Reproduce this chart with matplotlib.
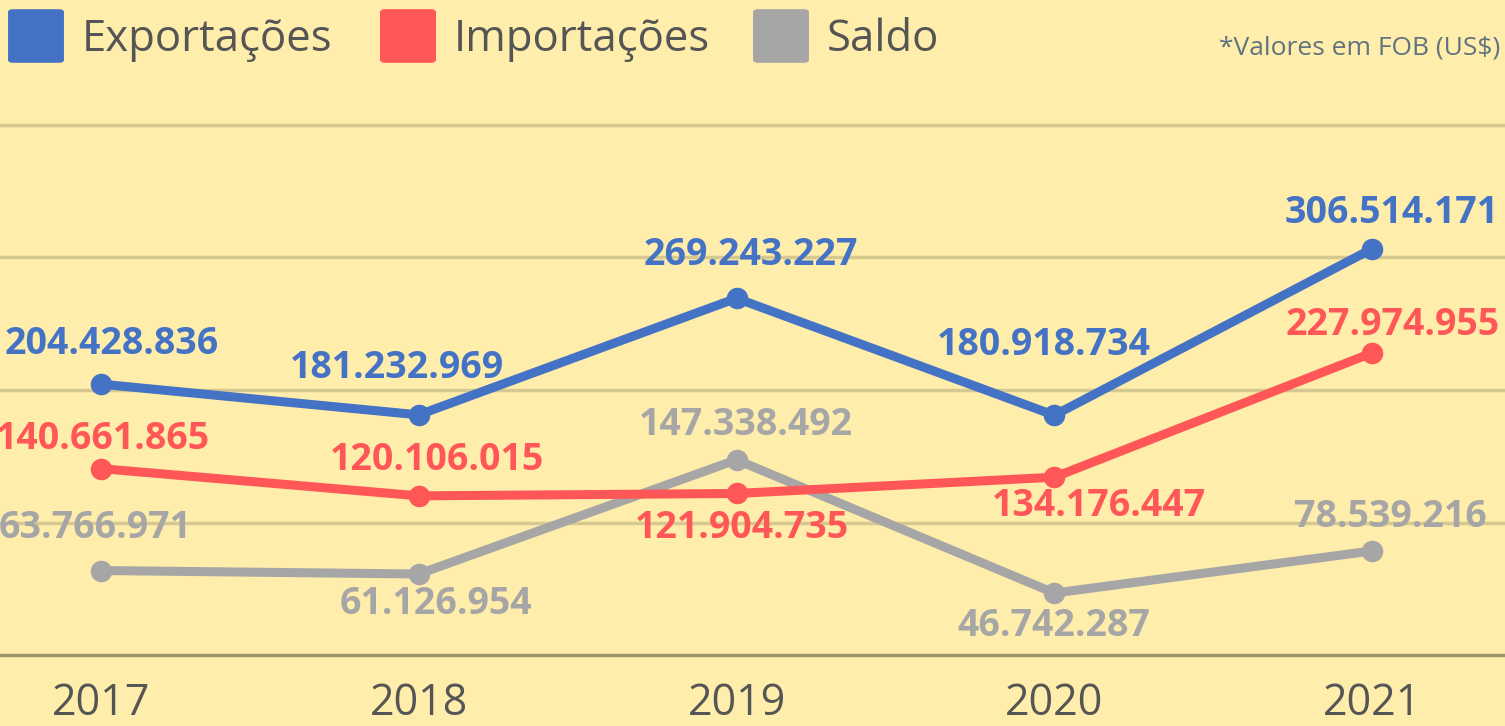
import matplotlib
matplotlib.use("Agg")
import matplotlib.pyplot as plt
from matplotlib.patches import FancyBboxPatch

plt.rcParams["font.family"] = ["Open Sans", "DejaVu Sans"]

years = ["2017", "2018", "2019", "2020", "2021"]
exportacoes = [204428836, 181232969, 269243227, 180918734, 306514171]
importacoes = [140661865, 120106015, 121904735, 134176447, 227974955]
saldo = [63766971, 61126954, 147338492, 46742287, 78539216]

# label offsets in pixels (dx, dy) relative to each point
off_exp = [(11, 40), (-22, 47), (14, 43), (-10, 70), (20, 36)]
off_imp = [(2, 30), (18, 36), (5, -35), (45, -29), (21, 28)]
off_sal = [(-6, 43), (17, -30), (9, 35), (0, -33), (18, 34)]

BG = "#FFEDAB"
BLUE = "#4472C4"
RED = "#FF5757"
GRAY = "#A6A6A6"
TXT = "#555555"


def fmt(v):
    return f"{v:,}".replace(",", ".")


fig = plt.figure(figsize=(15.05, 7.26), dpi=100)
fig.patch.set_facecolor(BG)
W, H = 1505, 726
ax = fig.add_axes([0, (H - 655) / H, 1, (655 - 125) / H])
ax.set_facecolor(BG)
x = list(range(len(years)))
ax.set_xlim(-101 / 317.75, (W - 101) / 317.75)
ax.set_ylim(0, 400e6)

for v in [100e6, 200e6, 300e6, 400e6]:
    ax.axhline(v, color="#D5C891", lw=2.5, zorder=1, clip_on=False)
ax.axhline(0, color="#9E9670", lw=2.5, zorder=1, clip_on=False)

for s in ax.spines.values():
    s.set_visible(False)
ax.set_yticks([])
ax.set_xticks(x)
ax.set_xticklabels(years, fontsize=31, color=TXT)
ax.tick_params(axis="x", length=0, pad=19)

for vals, col, offs in [(saldo, GRAY, off_sal), (importacoes, RED, off_imp),
                        (exportacoes, BLUE, off_exp)]:
    ax.plot(x, vals, "-o", color=col, lw=6.5, ms=14.5, zorder=3,
            solid_capstyle="round")
    for xi, v, (dx, dy) in zip(x, vals, offs):
        ax.annotate(fmt(v), (xi, v), xytext=(dx, dy), textcoords="offset pixels",
                    ha="center", va="center", fontsize=27, fontweight="bold",
                    color=col, zorder=4, annotation_clip=False)

# legend (manual squares + labels)
for left, col, lab in [(9, BLUE, "Exportações"), (381, RED, "Importações"),
                       (754, GRAY, "Saldo")]:
    sq = FancyBboxPatch(((left + 2) / W, 1 - 61 / H), 50 / W, 50 / H,
                        boxstyle="round,pad=0.0015,rounding_size=0.003",
                        transform=fig.transFigure, color=col, zorder=5)
    fig.patches.append(sq)
    fig.text((left + 73) / W, 1 - 40 / H, lab, fontsize=31.5, color=TXT,
             ha="left", va="center")

fig.text(1500 / W, 1 - 48 / H, "*Valores em FOB (US$)", fontsize=19,
         color="#5F7380", ha="right", va="center")

fig.savefig("out.png", dpi=100, facecolor=BG)
